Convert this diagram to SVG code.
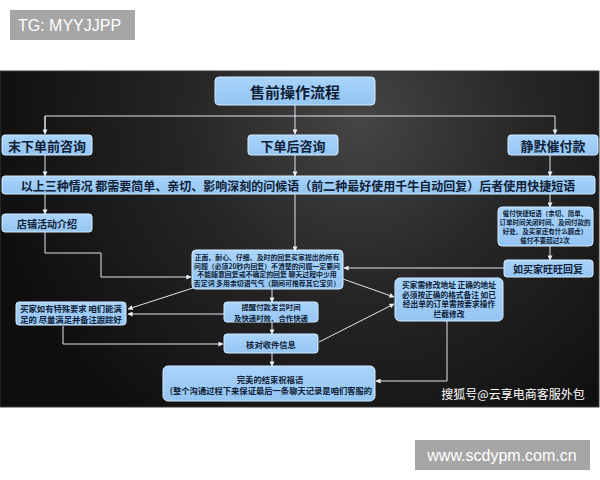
<svg xmlns="http://www.w3.org/2000/svg" width="600" height="480" viewBox="0 0 600 480">
<defs>
<radialGradient id="bg" cx="360" cy="120" r="380" gradientUnits="userSpaceOnUse">
<stop offset="0" stop-color="#454545"/>
<stop offset="0.45" stop-color="#262626"/>
<stop offset="1" stop-color="#0e0e0e"/>
</radialGradient>
<linearGradient id="bx" x1="0" y1="0" x2="0" y2="1">
<stop offset="0" stop-color="#a9d4fb"/>
<stop offset="1" stop-color="#94c5f2"/>
</linearGradient>
<marker id="ar" viewBox="0 0 6 6" refX="5.5" refY="3" markerWidth="5" markerHeight="5" orient="auto" markerUnits="userSpaceOnUse">
<path d="M0,0 L6,3 L0,6 z" fill="#e8eef4"/>
</marker>
</defs>
<style>
.box{fill:url(#bx);stroke:#d6ebff;stroke-width:1}
.t{font-family:"Noto Sans CJK SC","Noto Sans",sans-serif;font-weight:700;fill:#0f1d36;text-anchor:middle;dominant-baseline:central}
.c{fill:none;stroke:#dfe6ee;stroke-width:1}
.w{font-family:"Liberation Sans",Arial,sans-serif;fill:#ffffff}
</style>
<rect width="600" height="480" fill="#ffffff"/>
<g id="tg">
<rect x="10" y="10" width="125" height="30" fill="#a6a6a6"/>
<text class="w" x="18" y="31" font-size="16">TG: MYYJJPP</text>
</g>
<rect id="panel" x="0" y="71" width="599" height="336" fill="url(#bg)" stroke="#3a3a3a" stroke-width="1"/>
<g id="connectors">
<polyline class="c" points="295,105 295,116"/>
<polyline class="c" points="45,134 45,116 555,116 555,134" marker-end="url(#ar)"/>
<polyline class="c" points="45,116 45,134" marker-end="url(#ar)"/>
<polyline class="c" points="295,116 295,134" marker-end="url(#ar)"/>
<polyline class="c" points="45,155 45,176" marker-end="url(#ar)"/>
<polyline class="c" points="295,155 295,176" marker-end="url(#ar)"/>
<polyline class="c" points="550,155 550,176" marker-end="url(#ar)"/>
<polyline class="c" points="45,194 45,214" marker-end="url(#ar)"/>
<polyline class="c" points="295,194 295,251" marker-end="url(#ar)"/>
<polyline class="c" points="550,194 550,207" marker-end="url(#ar)"/>
<polyline class="c" points="550,246 550,260" marker-end="url(#ar)"/>
<polyline class="c" points="504,268 344,268" marker-end="url(#ar)"/>
<polyline class="c" points="45,232 45,253 101,253 101,277 191,277" marker-end="url(#ar)"/>
<polyline class="c" points="193,288 128,309" marker-end="url(#ar)"/>
<polyline class="c" points="224,314 128,314" marker-end="url(#ar)"/>
<polyline class="c" points="63,326 63,344 223,344" marker-end="url(#ar)"/>
<polyline class="c" points="272,289 272,302" marker-end="url(#ar)"/>
<polyline class="c" points="272,322 272,334" marker-end="url(#ar)"/>
<polyline class="c" points="272,353 272,366" marker-end="url(#ar)"/>
<polyline class="c" points="343,279 394,297" marker-end="url(#ar)"/>
<polyline class="c" points="319,342 394,304" marker-end="url(#ar)"/>
<polyline class="c" points="447,321 447,381 376,381" marker-end="url(#ar)"/>
</g>
<g id="n-title">
<rect class="box" x="215" y="77" width="160" height="28" rx="4"/>
<text class="t" x="295" y="91" font-size="15">售前操作流程</text>
</g>
<g id="n-pre">
<rect class="box" x="2" y="135" width="90" height="20" rx="3"/>
<text class="t" x="47" y="145" font-size="13">末下单前咨询</text>
</g>
<g id="n-post">
<rect class="box" x="248" y="135" width="90" height="20" rx="3"/>
<text class="t" x="293" y="145" font-size="13">下单后咨询</text>
</g>
<g id="n-silent">
<rect class="box" x="508" y="135" width="90" height="20" rx="3"/>
<text class="t" x="553" y="145" font-size="13">静默催付款</text>
</g>
<g id="n-bar">
<rect class="box" x="2" y="176" width="593" height="18" rx="3"/>
<text class="t" x="298" y="185" font-size="12">以上三种情况 都需要简单、亲切、影响深刻的问候语（前二种最好使用千牛自动回复）后者使用快捷短语</text>
</g>
<g id="n-shop">
<rect class="box" x="2" y="214" width="90" height="18" rx="3"/>
<text class="t" x="47" y="223" font-size="10">店铺活动介绍</text>
</g>
<g id="n-remind">
<rect class="box" x="498" y="207" width="95" height="39" rx="4"/>
<text class="t" x="545" y="213" font-size="6.5">催付快捷短语（亲切、简单、</text>
<text class="t" x="545" y="222" font-size="6.5">订单时间关闭时间、及间付款的</text>
<text class="t" x="545" y="231" font-size="6.5">好处、及买家还有什么顾虑）</text>
<text class="t" x="545" y="239.5" font-size="6.5">催付不要超过2次</text>
</g>
<g id="n-reply">
<rect class="box" x="504" y="260" width="89" height="17" rx="3"/>
<text class="t" x="548" y="268.5" font-size="10">如买家旺旺回复</text>
</g>
<g id="n-center">
<rect class="box" x="192" y="250" width="151" height="39" rx="4"/>
<text class="t" x="267" y="257" font-size="6.9">正面、耐心、仔细、及时的回复买家提出的所有</text>
<text class="t" x="267" y="265.5" font-size="6.9">问题（必须20秒内回复）不清楚的问题一定要问</text>
<text class="t" x="267" y="274" font-size="6.9">不能随意回复或不确定的回复 聊天过程中少用</text>
<text class="t" x="267" y="282.5" font-size="6.9">否定词 多用亲切语气气（期间可推荐其它宝贝）</text>
</g>
<g id="n-special">
<rect class="box" x="16" y="302" width="110" height="23" rx="3"/>
<text class="t" x="71" y="308" font-size="8.3">买家如有特殊要求 咱们能满</text>
<text class="t" x="71" y="319" font-size="8.3">足的 尽量满足并备注跟踪好</text>
</g>
<g id="n-ship">
<rect class="box" x="224" y="302" width="94" height="20" rx="3"/>
<text class="t" x="271" y="306.5" font-size="7.4">提醒付款发货时间</text>
<text class="t" x="271" y="317" font-size="7.4">及快递时效、合作快递</text>
</g>
<g id="n-check">
<rect class="box" x="224" y="334" width="94" height="19" rx="3"/>
<text class="t" x="271" y="344" font-size="8.3">核对收件信息</text>
</g>
<g id="n-address">
<rect class="box" x="395" y="278" width="108" height="43" rx="5"/>
<text class="t" x="449" y="284.5" font-size="7.7">买家需修改地址 正确的地址</text>
<text class="t" x="449" y="294" font-size="7.7">必须按正确的格式备注 如已</text>
<text class="t" x="449" y="303.5" font-size="7.7">经出单的订单需按要求操作</text>
<text class="t" x="449" y="313" font-size="7.7">拦截修改</text>
</g>
<g id="n-end">
<rect class="box" x="163" y="366" width="212" height="35" rx="5"/>
<text class="t" x="270" y="379" font-size="8.3">完美的结束祝福语</text>
<text class="t" x="271" y="390" font-size="8.3">(整个沟通过程下来保证最后一条聊天记录是咱们客服的</text>
</g>
<text x="513" y="399" font-family="Noto Sans CJK SC,sans-serif" font-size="12" fill="#ffffff" text-anchor="middle">搜狐号@云享电商客服外包</text>
<g id="url">
<rect x="415" y="440" width="175" height="30" fill="#a6a6a6"/>
<text class="w" x="502" y="461" font-size="16" text-anchor="middle">www.scdypm.com.cn</text>
</g>
</svg>
